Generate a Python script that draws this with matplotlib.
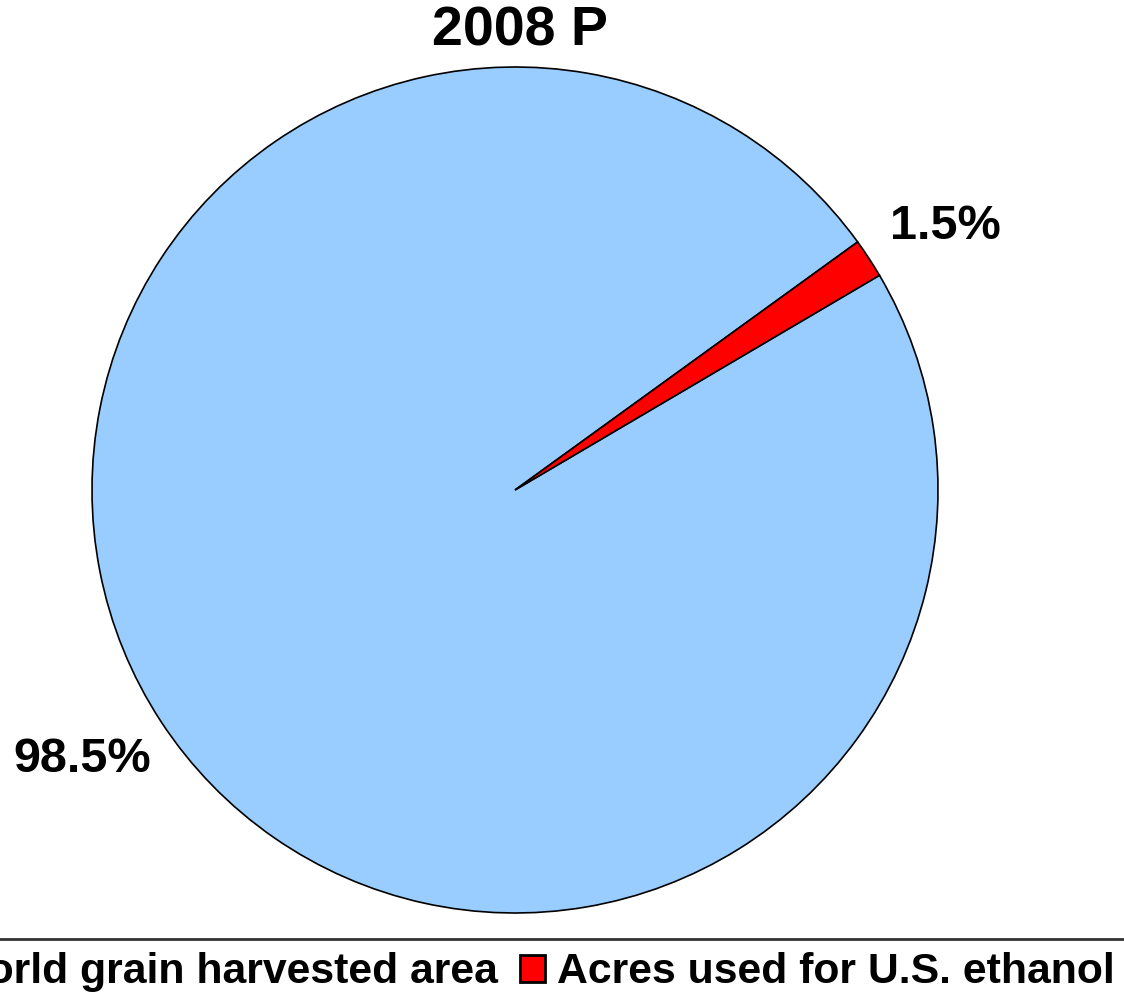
import matplotlib
matplotlib.use('Agg')
import matplotlib.pyplot as plt

# Data
labels = ['World grain harvested area', 'Acres used for U.S. ethanol']
shares = [98.5, 1.5]
pct_text = ['98.5%', '1.5%']
colors = ['#99ccff', '#ff0000']

plt.rcParams['font.family'] = ['Liberation Sans', 'DejaVu Sans']
plt.rcParams['font.weight'] = 'bold'

fig = plt.figure(figsize=(11.24, 10), dpi=100)
ax = fig.add_axes([92 / 1124, 87 / 1000, 846 / 1124, 846 / 1000])

wedges, _ = ax.pie(shares, colors=colors, startangle=30.5, counterclock=False,
                   wedgeprops=dict(edgecolor='black', linewidth=1.2))
ax.set_xlim(-1, 1)
ax.set_ylim(-1, 1)
ax.set_aspect('equal')

# percentage labels
ax.text(-1.024, -0.638, pct_text[0], fontsize=35, fontweight='bold', ha='center', va='center')
ax.text(1.017, 0.622, pct_text[1], fontsize=35, fontweight='bold', ha='center', va='center')

fig.text(0.463, 0.968, '2008 P', fontsize=40, fontweight='bold', ha='center', va='center')

leg = fig.legend(wedges, labels, loc='upper center', bbox_to_anchor=(0.456, 0.061),
                 ncol=2, fontsize=30.8, frameon=True, fancybox=False, edgecolor='black',
                 handlelength=0.6, handleheight=0.6, handletextpad=0.28, columnspacing=0.51,
                 borderpad=0.31, borderaxespad=0)
leg.get_frame().set_linewidth(2)
for h in leg.legend_handles:
    h.set_linewidth(2)

fig.savefig('out.png', dpi=100)
